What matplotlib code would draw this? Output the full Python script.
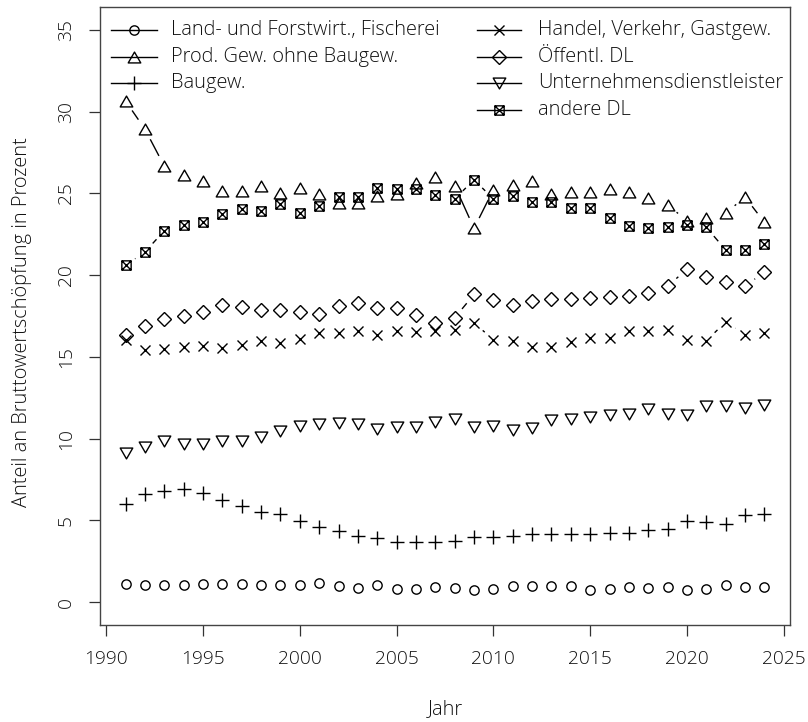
import numpy as np
import matplotlib
matplotlib.use("Agg")
import matplotlib.pyplot as plt
from matplotlib.path import Path
from matplotlib.collections import LineCollection
from matplotlib.lines import Line2D

years = list(range(1991, 2025))

land = [1.13, 1.05, 1.05, 1.05, 1.13, 1.13, 1.13, 1.05, 1.05, 1.05, 1.19, 0.96, 0.88,
        1.05, 0.78, 0.78, 0.92, 0.88, 0.76, 0.82, 0.96, 0.96, 0.96, 0.96, 0.76, 0.82,
        0.90, 0.84, 0.90, 0.76, 0.82, 1.03, 0.90, 0.90]
prod = [30.65, 28.93, 26.67, 26.10, 25.73, 25.17, 25.17, 25.44, 25.03, 25.34, 24.97,
        24.42, 24.42, 24.87, 24.97, 25.65, 26.00, 25.48, 22.86, 25.23, 25.52, 25.73,
        24.97, 25.08, 25.08, 25.28, 25.11, 24.70, 24.29, 23.33, 23.47, 23.80, 24.77, 23.23]
bau = [6.00, 6.62, 6.77, 6.93, 6.68, 6.25, 5.88, 5.49, 5.39, 4.98, 4.57, 4.33, 4.06,
       3.90, 3.67, 3.67, 3.67, 3.75, 3.96, 3.98, 4.04, 4.16, 4.18, 4.14, 4.14, 4.22,
       4.22, 4.43, 4.45, 4.98, 4.88, 4.78, 5.33, 5.36]
handel = [16.05, 15.44, 15.48, 15.60, 15.64, 15.54, 15.74, 15.99, 15.85, 16.09, 16.46,
          16.46, 16.60, 16.36, 16.60, 16.50, 16.56, 16.67, 17.08, 16.05, 15.99, 15.60,
          15.60, 15.91, 16.15, 16.15, 16.56, 16.56, 16.62, 16.05, 15.99, 17.14, 16.36, 16.46]
oeff = [16.35, 16.91, 17.34, 17.53, 17.75, 18.16, 18.06, 17.84, 17.84, 17.75, 17.65,
        18.10, 18.27, 18.00, 18.00, 17.55, 17.08, 17.39, 18.82, 18.47, 18.16, 18.41,
        18.57, 18.57, 18.61, 18.68, 18.71, 18.88, 19.33, 20.36, 19.90, 19.60, 19.33, 20.19]
unt = [9.15, 9.49, 9.86, 9.66, 9.70, 9.86, 9.86, 10.10, 10.47, 10.80, 10.89, 10.97,
       10.89, 10.56, 10.72, 10.72, 11.03, 11.23, 10.72, 10.80, 10.52, 10.68, 11.13,
       11.17, 11.30, 11.44, 11.50, 11.83, 11.50, 11.42, 11.99, 11.99, 11.89, 12.03]
andere = [20.60, 21.42, 22.71, 23.08, 23.27, 23.74, 24.05, 23.94, 24.35, 23.80, 24.25,
          24.77, 24.77, 25.32, 25.28, 25.28, 24.91, 24.66, 25.83, 24.66, 24.83, 24.50,
          24.50, 24.09, 24.09, 23.47, 23.02, 22.86, 22.92, 23.06, 22.92, 21.54, 21.54, 21.89]

labels = ["Land- und Forstwirt., Fischerei", "Prod. Gew. ohne Baugew.", "Baugew.",
          "Handel, Verkehr, Gastgew.", "Öffentl. DL", "Unternehmensdienstleister",
          "andere DL"]
series = [land, prod, bau, handel, oeff, unt, andere]

xticks = [1990, 1995, 2000, 2005, 2010, 2015, 2020, 2025]
yticks = [0, 5, 10, 15, 20, 25, 30, 35]

plt.rcParams['font.family'] = ['Open Sans', 'DejaVu Sans']
FW = 'light'
TXT = '#111111'
FS_TICK = 13.8
FS_TXT = 14.4

# custom R-like markers
tri_up = Path([(0, 1.1665), (1.347, -1.1665), (-1.347, -1.1665), (0, 1.1665)],
              [Path.MOVETO, Path.LINETO, Path.LINETO, Path.CLOSEPOLY])
tri_dn = Path([(0, -1.1665), (1.347, 1.1665), (-1.347, 1.1665), (0, -1.1665)],
              [Path.MOVETO, Path.LINETO, Path.LINETO, Path.CLOSEPOLY])
boxx = Path([(-1, -1), (1, -1), (1, 1), (-1, 1), (-1, -1), (-1, -1), (1, 1), (1, -1), (-1, 1)],
            [Path.MOVETO, Path.LINETO, Path.LINETO, Path.LINETO, Path.CLOSEPOLY,
             Path.MOVETO, Path.LINETO, Path.MOVETO, Path.LINETO])

r0 = 3.35  # points
markers = [('o', 2 * r0), (tri_up, 2.694 * r0), ('+', 2.828 * r0), ('x', 2 * r0),
           ('D', 2 * r0), (tri_dn, 2.694 * r0), (boxx, 2 * r0)]

fig = plt.figure(figsize=(8.08, 7.22), dpi=100)
ax = fig.add_axes([100 / 808, 1 - 625 / 722, 690 / 808, 618 / 722])
ax.set_xlim(1989.68, 2025.32)
ax.set_ylim(-1.4, 36.4)

GAP = 11.5  # px


def gapped(xs, ys):
    pts = ax.transData.transform(np.column_stack([xs, ys]))
    inv = ax.transData.inverted()
    segs = []
    for i in range(len(pts) - 1):
        p0, p1 = pts[i], pts[i + 1]
        d = np.hypot(*(p1 - p0))
        f = GAP / d
        if f < 0.5:
            a = p0 + f * (p1 - p0)
            b = p1 - f * (p1 - p0)
            segs.append(inv.transform(np.array([a, b])))
    return segs


for vals, (m, ms) in zip(series, markers):
    lc = LineCollection(gapped(years, vals), colors='black', linewidths=1.0)
    ax.add_collection(lc)
    ax.plot(years, vals, linestyle='none', marker=m, markersize=ms,
            markerfacecolor='none', markeredgecolor='black', markeredgewidth=1.0)

ax.set_xticks(xticks)
ax.set_yticks(yticks)
ax.set_xticklabels([str(t) for t in xticks], fontsize=FS_TICK, fontweight=FW, color=TXT)
ax.set_yticklabels([str(t) for t in yticks], fontsize=FS_TICK, fontweight=FW, color=TXT,
                   rotation=90, va='center')
ax.tick_params(axis='both', direction='out', length=8, width=0.9, color='#333333')
ax.tick_params(axis='x', pad=10)
ax.tick_params(axis='y', pad=10)
for s in ax.spines.values():
    s.set_color('#444444')
    s.set_linewidth(1.0)

fig.text(445 / 808, 1 - 709 / 722, "Jahr", ha='center', va='center', fontsize=FS_TXT,
         fontweight=FW, color=TXT)
fig.text(22 / 808, 1 - 322 / 722, "Anteil an Bruttowertschöpfung in Prozent",
         ha='center', va='center', rotation=90, fontsize=FS_TXT, fontweight=FW, color=TXT)

# legend (R style, no box)
leg_rows = [30, 57, 83, 110]
cols = [(111, 157, 171), (477, 521, 538)]
pos = [(0, 0), (0, 1), (0, 2), (1, 0), (1, 1), (1, 2), (1, 3)]
for lab, (m, ms), (c, r) in zip(labels, markers, pos):
    x0, x1, xt = cols[c]
    yy = 1 - leg_rows[r] / 722
    fig.add_artist(Line2D([x0 / 808, x1 / 808], [yy, yy], transform=fig.transFigure,
                          color='black', lw=1.0))
    fig.add_artist(Line2D([(x0 + x1) / 2 / 808], [yy], transform=fig.transFigure,
                          marker=m, markersize=ms, markerfacecolor='none',
                          markeredgecolor='black', markeredgewidth=1.0, linestyle='none'))
    fig.text(xt / 808, yy, lab, ha='left', va='center', fontsize=FS_TXT, fontweight=FW,
             color=TXT)

fig.savefig("out.png", dpi=100)
